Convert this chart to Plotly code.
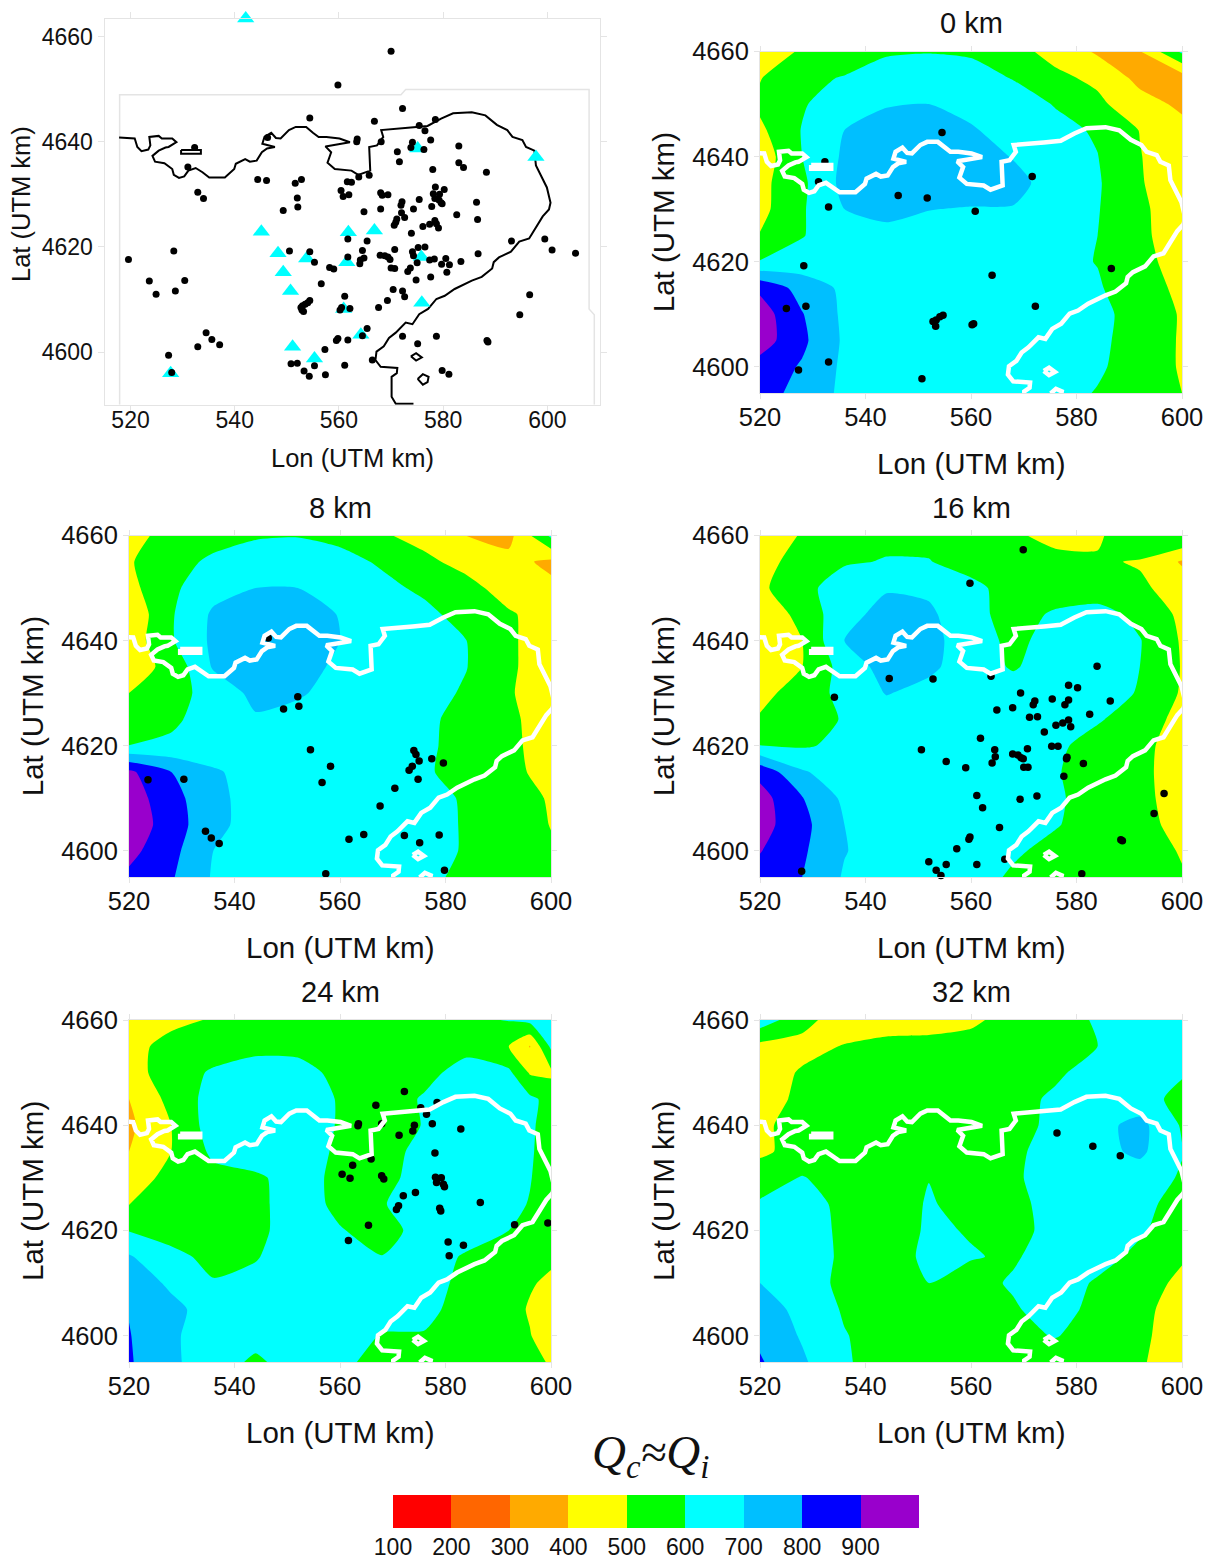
import plotly.graph_objects as go

LON_GRID = [520, 528, 536, 544, 552, 560, 568, 576, 584, 592, 600]
LON_GRID_24 = [520, 528, 536, 544, 552, 560, 568, 576, 584, 592, 596, 600]
LAT_GRID = [4660, 4655, 4650, 4645, 4640, 4635, 4630, 4625, 4620, 4615, 4610, 4605, 4600, 4595]

Q_0 = [
 [450,510,550,590,596,590,530,470,385,395,620],
 [495,580,605,640,650,630,596,520,480,370,350],
 [520,590,660,695,700,670,640,595,520,440,380],
 [480,605,700,730,745,710,660,625,590,497,430],
 [440,600,715,750,760,745,695,650,602,505,420],
 [470,580,730,745,750,745,730,660,610,510,420],
 [470,590,700,720,702,695,695,650,605,520,440],
 [505,595,660,680,670,660,650,630,600,520,450],
 [605,640,670,660,650,650,640,625,597,530,460],
 [880,760,680,660,655,650,640,630,610,540,480],
 [950,805,680,660,660,660,650,640,620,570,490],
 [950,820,685,665,660,655,650,640,620,560,490],
 [860,790,680,660,650,650,645,635,612,560,490],
 [850,760,680,650,650,650,640,630,595,540,500],
]
Q_8 = [
 [470,530,570,590,595,580,510,470,398,370,620],
 [490,570,615,650,660,625,590,520,470,430,380],
 [470,580,665,700,700,650,620,585,530,460,420],
 [420,590,715,750,750,695,660,620,570,510,460],
 [440,590,720,760,760,700,655,625,600,520,430],
 [450,530,710,745,740,680,650,630,602,520,430],
 [500,560,640,725,710,670,650,630,590,510,440],
 [530,580,650,690,670,660,650,625,560,520,450],
 [601,620,650,655,650,650,640,615,570,530,440],
 [920,800,710,670,660,650,640,610,570,530,460],
 [950,840,720,670,660,655,650,630,590,550,490],
 [960,855,720,670,660,655,650,640,590,550,497],
 [930,830,700,670,660,650,650,640,590,550,510],
 [880,810,690,660,650,650,650,630,570,540,505],
]
Q_16 = [
 [460,505,560,580,580,560,510,480,480,605,605],
 [450,555,590,605,603,570,540,520,515,490,390],
 [480,570,650,690,680,620,570,560,540,520,450],
 [410,540,660,740,720,625,570,610,640,570,480],
 [420,500,700,760,735,640,580,630,660,605,490],
 [470,500,640,740,720,650,590,650,660,600,495],
 [470,545,630,705,670,650,650,660,660,590,490],
 [510,570,605,650,640,640,640,650,610,550,470],
 [601,590,620,640,640,640,640,620,560,530,450],
 [870,710,650,640,640,640,640,605,570,530,440],
 [940,805,680,650,640,640,640,610,570,530,450],
 [940,830,700,650,640,640,635,605,570,530,470],
 [905,815,705,650,640,640,610,580,560,530,495],
 [860,800,690,640,640,630,590,570,550,530,505],
]
Q_24 = [
 [460,470,510,540,550,550,550,560,580,605,630,640],
 [460,540,560,570,570,560,560,560,570,500,395,620],
 [450,560,610,650,640,570,550,570,640,620,490,480],
 [400,530,640,670,670,590,550,610,670,650,620,570],
 [380,500,650,680,670,590,550,605,680,660,615,560],
 [400,500,620,670,660,580,550,640,680,650,610,560],
 [450,530,570,580,650,570,570,640,670,640,605,550],
 [497,560,570,580,640,580,595,640,650,625,595,530],
 [595,570,575,585,630,605,570,630,640,600,570,540],
 [710,620,580,595,640,615,602,640,590,560,540,520],
 [770,680,605,620,650,640,640,630,580,550,510,480],
 [795,730,650,650,650,640,630,620,570,540,490,450],
 [805,715,650,630,640,640,595,595,570,540,505,440],
 [810,720,640,585,640,620,570,560,550,530,515,495],
]
Q_32 = [
 [660,530,450,450,460,480,540,560,610,650,660],
 [470,470,505,530,530,540,560,570,600,640,650],
 [450,510,550,570,575,575,580,590,625,620,610],
 [440,530,560,570,570,570,580,610,640,640,570],
 [480,540,560,560,560,565,570,620,670,730,590],
 [480,540,555,560,565,570,585,630,670,720,605],
 [560,605,560,560,598,570,590,630,660,650,590],
 [610,650,570,550,608,570,570,640,650,630,560],
 [640,660,575,550,612,595,570,630,650,610,560],
 [650,660,580,510,640,605,590,640,630,580,510],
 [700,640,580,520,600,570,610,640,590,540,480],
 [750,670,590,560,560,560,590,640,570,530,450],
 [780,690,605,560,560,560,575,605,560,520,450],
 [810,715,610,560,550,550,550,550,540,510,450],
]

COAST_LON = [517.8,520.8,521.3,522.1,523.4,523.8,523.6,525.4,526.0,528.0,528.8,527.3,526.7,525.4,524.2,524.7,526.5,528.0,528.3,529.3,530.3,531.1,532.5,533.8,535.1,538.1,539.9,540.2,542.0,542.9,544.2,545.2,546.2,547.7,545.3,545.7,547.0,547.9,548.8,550.4,551.7,553.7,555.0,556.1,557.6,560.1,562.1,559.5,557.4,558.5,557.8,559.2,562.4,563.7,566.0,565.8,567.3,568.5,568.1,573.8,575.4,577.0,579.6,581.9,585.5,588.1,590.3,592.3,593.3,595.2,595.9,597.5,597.8,598.8,599.9,600.6,600.3,599.1,597.8,596.5,594.6,593.0,590.7,589.7,589.4,587.4,585.5,582.2,580.3,578.7,577.1,575.4,574.1,572.8,570.9,569.6,568.6,567.2,567.0,568.0,571.2,571.1,570.1,570.1,570.9,574.3,
             None,529.7,533.5,533.5,529.7,529.7,
             None,573.8,574.8,575.9,574.8,573.8,
             None,575.1,576.1,577.2,577.0,576.1,575.1]
COAST_LAT = [4640.8,4640.6,4639.0,4638.2,4638.5,4639.3,4640.9,4641.1,4640.6,4640.6,4639.9,4639.0,4638.9,4638.3,4637.3,4636.2,4635.9,4634.8,4633.7,4633.1,4633.4,4634.5,4635.0,4634.2,4633.2,4633.2,4634.8,4635.8,4636.7,4636.2,4636.4,4638.0,4638.7,4639.0,4639.6,4640.9,4641.7,4640.7,4640.6,4642.2,4642.8,4642.8,4641.7,4640.9,4640.9,4640.6,4639.9,4639.4,4639.1,4638.0,4636.0,4634.8,4634.5,4633.7,4634.5,4639.0,4639.3,4640.9,4642.2,4642.7,4642.8,4643.0,4644.4,4645.4,4645.6,4645.0,4643.2,4642.2,4640.9,4640.3,4639.0,4638.3,4635.5,4633.5,4631.3,4628.4,4627.1,4625.8,4623.6,4621.6,4621.0,4619.1,4618.0,4617.1,4615.9,4614.3,4613.6,4612.0,4610.7,4610.1,4608.2,4607.2,4605.3,4605.6,4603.7,4602.7,4601.1,4600.1,4598.5,4597.2,4597.0,4596.0,4595.3,4591.5,4590.2,4590.2,
             None,4638.4,4638.4,4637.7,4637.7,4638.4,
             None,4599.2,4599.8,4599.0,4598.4,4599.2,
             None,4594.9,4595.8,4595.3,4594.3,4593.8,4594.9]
BOUND_LON = [517.9,517.9,571.9,572.8,608.0,608.0,609.0,609.0]
BOUND_LAT = [4590,4648.9,4648.9,4649.9,4649.9,4608.2,4607.1,4590]

STATION_LON = [542.1,575.1,597.8,545.1,561.8,566.8,548.3,553.8,575.8,561.5,549.3,550.7,575.9,560.9,564.2,551.1,555.3,527.7]
STATION_LAT = [4663.4,4638.7,4637.1,4622.9,4622.8,4623.1,4618.8,4617.8,4618.1,4617.1,4615.2,4611.6,4609.4,4608.2,4603.3,4601.0,4598.8,4596.0]

ALL_LON = [570.0,559.8,572.2,554.4,566.8,575.4,578.5,576.5,577.6,583.0,563.5,563.4,568.1,546.3,574.1,573.8,576.3,571.2,571.6,532.3,531.0,583.0,583.9,578.0,588.3,544.4,546.1,552.8,551.6,563.8,565.8,561.6,562.4,578.5,580.2,560.4,560.8,561.9,532.9,534.0,568.0,568.3,569.4,578.1,579.3,578.4,579.2,579.6,579.8,575.4,552.0,552.1,549.3,572.1,571.9,577.8,586.4,574.3,568.0,564.8,572.0,572.6,571.1,582.6,586.6,570.9,570.6,578.4,577.4,576.1,578.7,579.1,573.9,561.7,565.4,593.1,599.5,600.9,605.4,528.3,519.6,550.5,554.4,564.5,570.7,575.2,576.5,574.1,574.3,586.7,561.7,567.9,568.8,569.4,569.8,564.8,564.1,564.0,555.3,577.4,578.3,580.5,583.4,575.0,579.7,581.2,558.2,559.0,570.0,570.7,573.7,573.2,580.7,574.8,577.6,530.4,523.6,556.6,570.4,572.2,572.6,528.6,524.9,596.6,561.1,569.3,554.4,554.0,553.5,553.0,552.7,552.9,553.2,567.6,562.1,560.2,560.5,594.7,514.5,565.4,534.5,535.6,537.1,564.5,572.2,578.7,559.8,559.5,561.7,588.4,588.6,532.9,575.1,557.3,527.3,566.4,550.8,552.0,555.3,561.1,527.9,553.3,554.3,557.4,579.8,581.1]
ALL_LAT = [4657.2,4650.8,4646.3,4644.5,4643.9,4643.1,4644.2,4642.1,4640.3,4639.2,4640.5,4640.0,4640.0,4640.8,4639.9,4638.9,4638.5,4638.1,4636.2,4638.9,4635.2,4636.0,4635.1,4634.7,4634.2,4632.8,4632.6,4632.8,4632.1,4633.3,4633.6,4632.4,4632.3,4631.4,4630.9,4630.7,4629.6,4629.9,4630.4,4629.2,4630.3,4629.8,4629.9,4630.1,4630.0,4629.2,4628.9,4628.4,4628.2,4629.0,4629.3,4627.6,4626.9,4628.6,4627.9,4627.7,4628.5,4627.2,4627.2,4626.7,4626.5,4625.6,4625.3,4626.1,4625.2,4624.7,4624.1,4625.0,4624.3,4623.9,4624.4,4623.6,4622.6,4621.5,4621.1,4621.1,4621.5,4619.4,4618.8,4619.2,4617.6,4619.2,4619.1,4619.3,4619.5,4619.9,4620.0,4619.1,4618.3,4618.7,4618.1,4618.4,4618.3,4618.1,4617.6,4617.9,4617.5,4616.8,4617.1,4617.5,4617.7,4617.8,4617.2,4617.0,4616.7,4616.6,4616.1,4615.8,4616.0,4615.9,4616.0,4615.3,4615.2,4613.7,4614.3,4613.6,4613.5,4613.0,4611.9,4611.6,4610.5,4611.6,4611.0,4610.9,4610.6,4609.8,4609.8,4609.4,4609.1,4608.8,4608.5,4608.0,4607.7,4608.5,4608.3,4608.0,4608.5,4607.1,4605.4,4604.5,4603.7,4602.4,4601.4,4603.1,4603.0,4603.0,4602.6,4602.2,4602.3,4602.2,4601.9,4601.0,4601.6,4600.5,4599.4,4598.5,4597.8,4597.9,4597.4,4597.5,4596.1,4596.4,4595.4,4595.7,4596.5,4595.8]

EQ0_LON = [554.5,532.3,531.1,571.6,546.2,551.7,533.0,560.8,528.3,519.7,564.0,586.6,528.7,525.0,572.2,554.7,554.1,553.4,552.8,553.3,560.2,560.5,533.0,527.3,550.7]
EQ0_LAT = [4644.6,4639.0,4635.2,4636.2,4632.6,4632.1,4630.4,4629.6,4619.2,4617.6,4617.4,4618.7,4611.5,4611.1,4611.5,4609.8,4609.5,4608.9,4608.6,4607.7,4608.0,4608.2,4600.9,4599.4,4597.7]
EQ8_LON = [552.0,552.2,549.3,546.4,554.4,558.2,556.6,523.6,530.4,534.5,535.6,537.1,574.0,574.4,575.0,577.4,579.6,573.7,573.1,574.8,570.4,567.6,564.5,561.7,572.2,575.1,578.8,579.8,557.3]
EQ8_LAT = [4629.3,4627.5,4627.0,4640.5,4619.2,4616.1,4613.0,4613.5,4613.6,4603.7,4602.4,4601.4,4619.1,4618.3,4617.1,4617.5,4616.7,4616.1,4615.3,4613.6,4611.9,4608.5,4603.1,4602.2,4602.9,4601.5,4603.0,4596.3,4595.6]
EQ16_LON = [569.9,559.8,544.5,552.8,563.8,534.1,583.9,578.5,580.2,569.4,572.1,571.8,575.4,578.5,577.8,586.4,564.9,567.9,582.5,571.1,572.6,578.5,576.1,577.4,578.9,573.9,561.8,550.6,564.5,570.7,575.3,576.5,564.6,567.9,568.9,569.5,569.9,578.2,578.1,581.3,555.3,559.0,564.0,570.0,570.8,577.6,561.1,569.3,572.5,562.2,596.6,594.7,565.4,559.8,559.6,588.4,588.7,557.3,566.4,552.0,555.3,561.1,553.4,554.3,581.0,527.9,514.5]
EQ16_LAT = [4657.3,4650.9,4632.8,4632.7,4633.2,4629.2,4635.1,4631.5,4631.0,4630.0,4628.5,4627.8,4628.9,4628.7,4627.8,4628.5,4626.8,4627.2,4626.0,4625.4,4625.5,4624.9,4623.9,4624.3,4623.6,4622.6,4621.4,4619.2,4619.2,4619.4,4619.9,4619.9,4617.9,4618.4,4618.2,4617.7,4617.5,4617.8,4617.5,4616.6,4617.0,4615.8,4616.7,4615.9,4615.9,4614.2,4610.5,4609.8,4610.4,4608.2,4610.9,4607.1,4604.4,4602.6,4602.2,4602.1,4601.9,4600.4,4598.4,4597.9,4597.4,4597.4,4596.3,4595.3,4595.6,4596.1,4605.4]
EQ24_LON = [572.2,566.8,578.4,575.3,576.4,563.5,563.4,567.9,574.1,573.8,577.5,582.9,571.2,578.0,565.9,562.4,560.4,561.9,567.9,568.3,578.1,579.2,578.3,579.6,579.8,574.3,572.0,571.1,570.7,586.6,578.9,579.1,565.4,593.1,599.4,561.6,580.5,583.4,580.7]
EQ24_LAT = [4646.4,4643.8,4644.3,4643.3,4642.1,4640.3,4639.9,4640.3,4640.0,4638.9,4640.3,4639.3,4638.1,4634.7,4633.6,4632.4,4630.7,4629.9,4630.4,4629.8,4630.1,4630.0,4629.1,4628.8,4628.3,4627.2,4626.6,4624.7,4624.0,4625.3,4624.2,4623.7,4621.0,4621.1,4621.4,4618.1,4617.8,4617.2,4615.2]
EQ32_LON = [576.3,583.1,588.3]
EQ32_LAT = [4638.5,4636.0,4634.2]

BAND_COLORS = ["#FF0000","#FF6600","#FFAA00","#FFFF00","#00FF00","#00FFFF","#00BFFF","#0000FF","#9900CC"]
BAND_EDGES = [100,200,300,400,500,600,700,800,900,1000]
BAND_MIDS = [150,250,350,450,550,650,750,850,950]
BAND_TICKS = [100,200,300,400,500,600,700,800,900]
X_TICKS = [520,540,560,580,600]
Y_TICKS = [4600,4620,4640,4660]
W, H = 1219, 1563
FONT = "Liberation Sans"
LIGHT = "#e4e4e4"
INK = "#111111"

scale = []
for i, c in enumerate(BAND_COLORS):
    scale += [[i/9, c], [(i+1)/9, c]]

panels = [
    ("0 km", Q_0, LON_GRID, EQ0_LON, EQ0_LAT, 760, 1182, 51.5, 393, 663),
    ("8 km", Q_8, LON_GRID, EQ8_LON, EQ8_LAT, 129, 551, 535.5, 877, 32),
    ("16 km", Q_16, LON_GRID, EQ16_LON, EQ16_LAT, 760, 1182, 535.5, 877, 663),
    ("24 km", Q_24, LON_GRID_24, EQ24_LON, EQ24_LAT, 129, 551, 1020, 1362, 32),
    ("32 km", Q_32, LON_GRID, EQ32_LON, EQ32_LAT, 760, 1182, 1020, 1362, 663),
]

fig = go.Figure()
layout = {}
annots = []

def label(text, px, py, size, angle=0, family=FONT):
    annots.append(dict(text=text, x=px/W, y=1-py/H, xref="paper", yref="paper", showarrow=False,
                       xanchor="center", yanchor="middle", textangle=angle,
                       font=dict(size=size, family=family, color=INK)))

def set_axes(n, x0, x1, y0, y1, xr, yr, tick, tlen, xoff):
    s = "" if n == 1 else str(n)
    layout["xaxis"+s] = dict(domain=[x0/W, x1/W], range=xr, anchor="y"+s, tickvals=X_TICKS, automargin=False,
        ticks="outside", ticklen=tlen, tickcolor=LIGHT, showline=True, linecolor=LIGHT, mirror="ticks",
        ticklabelstandoff=xoff, showgrid=False, zeroline=False, tickfont=dict(size=tick, family=FONT, color=INK))
    layout["yaxis"+s] = dict(domain=[1-y1/H, 1-y0/H], range=yr, anchor="x"+s, tickvals=Y_TICKS, automargin=False,
        ticks="outside", ticklen=tlen, tickcolor=LIGHT, showline=True, linecolor=LIGHT, mirror="ticks",
        showgrid=False, zeroline=False, tickformat="d", tickfont=dict(size=tick, family=FONT, color=INK))

set_axes(1, 104.5, 599.5, 18.6, 404.7, [515, 610], [4590, 4663.4], 23, 6, -11)
label("Lon (UTM km)", 352, 458, 25.5)
label("Lat (UTM km)", 21, 204, 25.5, -90)
fig.add_trace(go.Scatter(x=BOUND_LON, y=BOUND_LAT, mode="lines", line=dict(color=LIGHT, width=1.5),
                         hoverinfo="skip", showlegend=False))
fig.add_trace(go.Scatter(x=COAST_LON, y=COAST_LAT, mode="lines", line=dict(color="black", width=2),
                         connectgaps=False, showlegend=False))
fig.add_trace(go.Scatter(x=STATION_LON, y=STATION_LAT, mode="markers", cliponaxis=False,
                         marker=dict(symbol="triangle-up", size=15, color="#00FFFF", line=dict(width=0)), showlegend=False))
fig.add_trace(go.Scatter(x=ALL_LON, y=ALL_LAT, mode="markers", cliponaxis=False,
                         marker=dict(size=7, color="black", line=dict(width=0)), showlegend=False))

for k, (name, q, lon_grid, lons, lats, x0, x1, y0, y1, latx) in enumerate(panels):
    n = k + 2
    s = str(n)
    set_axes(n, x0, x1, y0, y1, [520, 600], [4595, 4660], 25.5, 5, -4)
    fig.add_trace(go.Contour(x=lon_grid, y=LAT_GRID[::-1], z=q[::-1], xaxis="x"+s, yaxis="y"+s,
              zmin=100, zmax=1000, zauto=False, colorscale=scale, autocontour=False, showscale=False,
              contours=dict(start=100, end=1000, size=100, coloring="fill", showlines=False),
              line=dict(width=0, smoothing=0.6), hoverinfo="skip"))
    fig.add_trace(go.Scatter(x=lons, y=lats, mode="markers", cliponaxis=False, xaxis="x"+s, yaxis="y"+s,
                             marker=dict(size=7.5, color="black", line=dict(width=0)), showlegend=False))
    fig.add_trace(go.Scatter(x=COAST_LON, y=COAST_LAT, mode="lines", xaxis="x"+s, yaxis="y"+s,
                             line=dict(color="white", width=4.5), connectgaps=False, showlegend=False))
    label(name, (x0+x1)/2, y0-28, 29)
    label("Lon (UTM km)", (x0+x1)/2, y1+70, 29.5)
    label("Lat (UTM km)", latx, (y0+y1)/2, 29.5, -90)

# colour key
fig.add_trace(go.Heatmap(x=BAND_EDGES, y=[0, 1], z=[BAND_MIDS], xaxis="x7", yaxis="y7", zmin=100, zmax=1000,
                         colorscale=scale, showscale=False, hoverinfo="skip"))
layout["xaxis7"] = dict(domain=[393/W, 919/W], range=[100, 1000], anchor="y7", tickvals=BAND_TICKS, automargin=False,
                        ticks="outside", ticklen=2, tickcolor="white", showline=False, showgrid=False, zeroline=False,
                        ticklabelstandoff=-4, tickfont=dict(size=23, family=FONT, color=INK))
layout["yaxis7"] = dict(domain=[1-1528/H, 1-1495/H], range=[0, 1], anchor="x7", visible=False, automargin=False)

label("<i>Q<sub>c</sub>≈Q<sub>i</sub></i>", 650, 1455, 47, family="Liberation Serif")

fig.update_layout(width=W, height=H, margin=dict(l=0, r=0, t=0, b=0, pad=0), autosize=False,
                  paper_bgcolor="white", plot_bgcolor="white", annotations=annots, showlegend=False, **layout)
fig.write_html("out.html", post_script="document.body.style.margin='0';", config=dict(displayModeBar=False))
